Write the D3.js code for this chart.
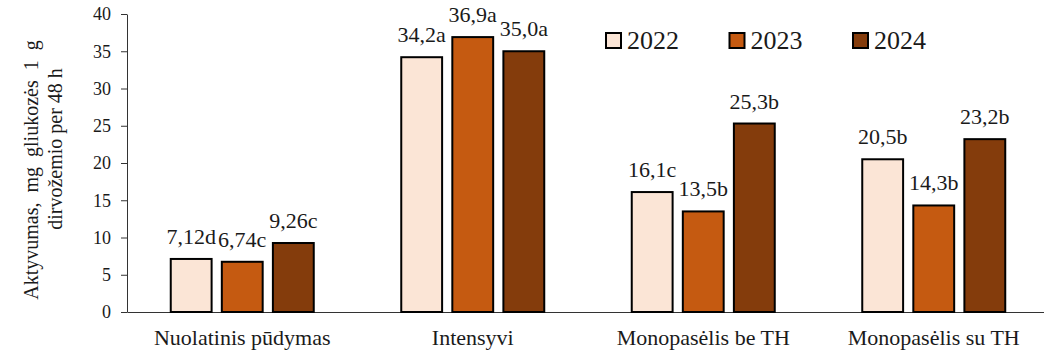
<!DOCTYPE html>
<html>
<head>
<meta charset="utf-8">
<script src="https://cdn.jsdelivr.net/npm/d3@7"></script>
<style>
  html, body { margin: 0; padding: 0; background: #fff; }
  svg { display: block; }
  text { font-family: "Liberation Serif", "Times New Roman", serif; fill: #1a1a1a; }
</style>
</head>
<body>
<svg id="chart" width="1044" height="353"></svg>
<script>
// Soil enzyme activity by treatment and year
const categories = ["Nuolatinis pūdymas", "Intensyvi", "Monopasėlis be TH", "Monopasėlis su TH"];
const years = ["2022", "2023", "2024"];
const values2022 = [7.12, 34.2, 16.1, 20.5];
const values2023 = [6.74, 36.9, 13.5, 14.3];
const values2024 = [9.26, 35.0, 25.3, 23.2];
const letters2022 = ["d", "a", "c", "b"];
const letters2023 = ["c", "a", "b", "b"];
const letters2024 = ["c", "a", "b", "b"];
const yTicks = [0, 5, 10, 15, 20, 25, 30, 35, 40];
const colors = ["#FBE5D6", "#C55A11", "#843C0C"];

const seriesValues = [values2022, values2023, values2024];
const seriesLetters = [letters2022, letters2023, letters2024];

const svg = d3.select("#chart");
const plotLeft = 127, plotTop = 14, plotBottom = 312, plotRight = 1049;
const serif = "Liberation Serif, Times New Roman, serif";

const x0 = d3.scaleBand().domain(categories).range([plotLeft, plotRight]).padding(0);
const x1 = d3.scaleBand().domain(years).range([0, 143]).paddingInner(0.2).paddingOuter(0);
const y = d3.scaleLinear().domain([0, 40]).range([plotBottom, plotTop]);

// Two decimals for the small values, one decimal otherwise; comma as separator
const fmt = v => {
  const dec = String(v).split(".")[1];
  const s = (v < 10 && dec && dec.length === 2) ? v.toFixed(2) : v.toFixed(1);
  return s.replace(".", ",");
};

// Y axis
const yAxis = d3.axisLeft(y).tickValues(yTicks).tickSize(6).tickSizeOuter(0).tickPadding(10);
const gy = svg.append("g").attr("transform", `translate(${plotLeft},0)`).call(yAxis);
gy.attr("font-family", serif);
gy.select(".domain").attr("stroke", "#333").attr("stroke-width", 1);
gy.selectAll(".tick line").attr("stroke", "#333");
gy.selectAll(".tick text").attr("font-size", 18).attr("fill", "#1a1a1a");

// X axis baseline and category labels
const xAxis = d3.axisBottom(x0).tickSize(0).tickPadding(17);
const gx = svg.append("g").attr("transform", `translate(0,${plotBottom})`).call(xAxis);
gx.attr("font-family", serif);
gx.select(".domain").attr("stroke", "#333").attr("stroke-width", 1);
gx.selectAll(".tick text").attr("font-size", 22).attr("fill", "#1a1a1a");

// Bars with value labels
const groupOffset = (x0.bandwidth() - 143) / 2;
years.forEach((yr, si) => {
  const g = svg.append("g");
  g.selectAll("rect").data(categories).join("rect")
    .attr("x", (c) => x0(c) + groupOffset + x1(yr))
    .attr("y", (c, i) => y(seriesValues[si][i]))
    .attr("width", x1.bandwidth())
    .attr("height", (c, i) => y(0) - y(seriesValues[si][i]))
    .attr("fill", colors[si])
    .attr("stroke", "#000")
    .attr("stroke-width", 2);
  g.selectAll("text").data(categories).join("text")
    .attr("x", (c) => x0(c) + groupOffset + x1(yr) + x1.bandwidth() / 2)
    .attr("y", (c, i) => y(seriesValues[si][i]) - 15)
    .attr("text-anchor", "middle")
    .attr("font-size", 22)
    .text((c, i) => fmt(seriesValues[si][i]) + seriesLetters[si][i]);
});

// Y axis title, two lines
svg.append("text")
  .attr("transform", `translate(38,170) rotate(-90)`)
  .attr("text-anchor", "middle")
  .attr("font-size", 20)
  .style("word-spacing", "5px")
  .text("Aktyvumas, mg gliukozės 1 g");
svg.append("text")
  .attr("transform", `translate(62,149) rotate(-90)`)
  .attr("text-anchor", "middle")
  .attr("font-size", 20)
  .text("dirvožemio per 48 h");

// Legend
const legend = svg.append("g");
years.forEach((yr, i) => {
  const lx = 606 + i * 123.5;
  legend.append("rect").attr("x", lx).attr("y", 33).attr("width", 15).attr("height", 15)
    .attr("fill", colors[i]).attr("stroke", "#000").attr("stroke-width", 2);
  legend.append("text").attr("x", lx + 21).attr("y", 49).attr("font-size", 26).text(yr);
});
</script>
</body>
</html>
